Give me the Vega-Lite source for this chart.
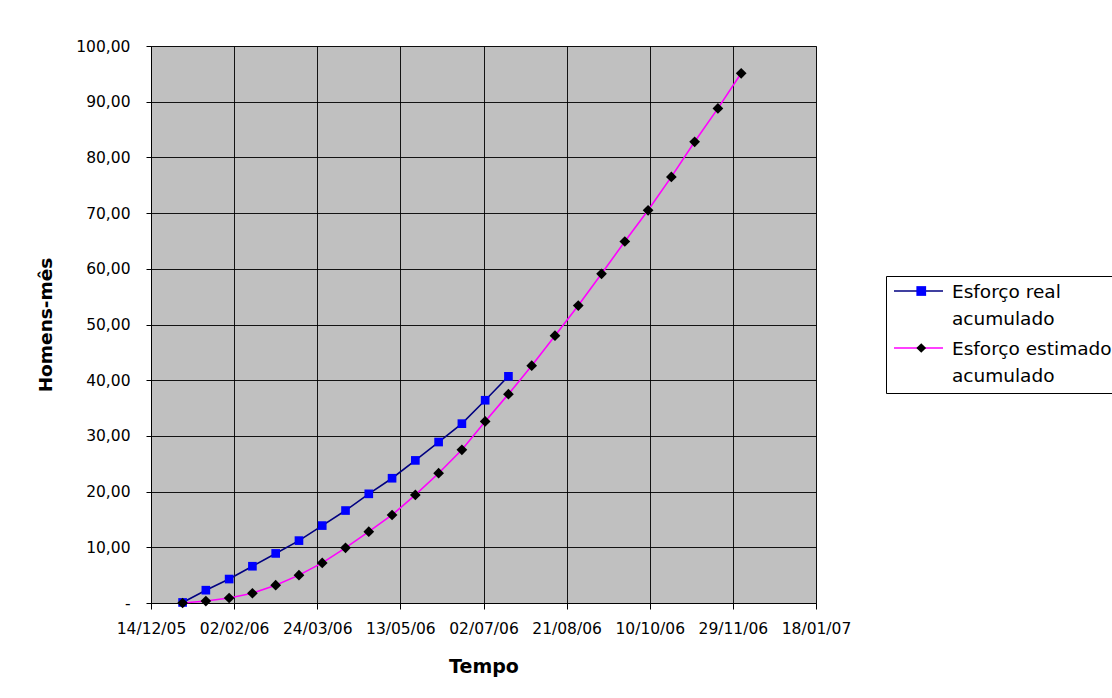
{
  "$schema": "https://vega.github.io/schema/vega-lite/v6.json",
  "width": 665,
  "height": 557,
  "autosize": {"type": "none"},
  "padding": {"left": 151, "top": 46, "right": 296, "bottom": 95},
  "background": "#FFFFFF",
  "config": {
    "font": "DejaVu Sans",
    "view": {"fill": "#C0C0C0", "stroke": "#808080", "strokeWidth": 1},
    "axis": {
      "labelFont": "DejaVu Sans",
      "labelFontSize": 15.5,
      "labelColor": "#000000",
      "titleFont": "DejaVu Sans",
      "titleFontWeight": "bold",
      "titleColor": "#000000",
      "domainColor": "#000000",
      "tickColor": "#000000",
      "gridColor": "#000000",
      "gridOpacity": 0.9,
      "gridWidth": 1,
      "labelFlush": false,
      "labelOverlap": false
    }
  },
  "data": {
    "values": [
      {"date": "2006-01-02", "serie": "Esforço real acumulado", "valor": 0.1},
      {"date": "2006-01-16", "serie": "Esforço real acumulado", "valor": 2.3},
      {"date": "2006-01-30", "serie": "Esforço real acumulado", "valor": 4.3},
      {"date": "2006-02-13", "serie": "Esforço real acumulado", "valor": 6.6},
      {"date": "2006-02-27", "serie": "Esforço real acumulado", "valor": 8.9},
      {"date": "2006-03-13", "serie": "Esforço real acumulado", "valor": 11.2},
      {"date": "2006-03-27", "serie": "Esforço real acumulado", "valor": 13.9},
      {"date": "2006-04-10", "serie": "Esforço real acumulado", "valor": 16.6},
      {"date": "2006-04-24", "serie": "Esforço real acumulado", "valor": 19.6},
      {"date": "2006-05-08", "serie": "Esforço real acumulado", "valor": 22.4},
      {"date": "2006-05-22", "serie": "Esforço real acumulado", "valor": 25.6},
      {"date": "2006-06-05", "serie": "Esforço real acumulado", "valor": 28.9},
      {"date": "2006-06-19", "serie": "Esforço real acumulado", "valor": 32.2},
      {"date": "2006-07-03", "serie": "Esforço real acumulado", "valor": 36.4},
      {"date": "2006-07-17", "serie": "Esforço real acumulado", "valor": 40.7},
      {"date": "2006-01-02", "serie": "Esforço estimado acumulado", "valor": 0.0},
      {"date": "2006-01-16", "serie": "Esforço estimado acumulado", "valor": 0.35},
      {"date": "2006-01-30", "serie": "Esforço estimado acumulado", "valor": 0.9},
      {"date": "2006-02-13", "serie": "Esforço estimado acumulado", "valor": 1.75},
      {"date": "2006-02-27", "serie": "Esforço estimado acumulado", "valor": 3.2},
      {"date": "2006-03-13", "serie": "Esforço estimado acumulado", "valor": 5.0},
      {"date": "2006-03-27", "serie": "Esforço estimado acumulado", "valor": 7.2},
      {"date": "2006-04-10", "serie": "Esforço estimado acumulado", "valor": 9.9},
      {"date": "2006-04-24", "serie": "Esforço estimado acumulado", "valor": 12.8},
      {"date": "2006-05-08", "serie": "Esforço estimado acumulado", "valor": 15.8},
      {"date": "2006-05-22", "serie": "Esforço estimado acumulado", "valor": 19.4},
      {"date": "2006-06-05", "serie": "Esforço estimado acumulado", "valor": 23.3},
      {"date": "2006-06-19", "serie": "Esforço estimado acumulado", "valor": 27.5},
      {"date": "2006-07-03", "serie": "Esforço estimado acumulado", "valor": 32.6},
      {"date": "2006-07-17", "serie": "Esforço estimado acumulado", "valor": 37.5},
      {"date": "2006-07-31", "serie": "Esforço estimado acumulado", "valor": 42.6},
      {"date": "2006-08-14", "serie": "Esforço estimado acumulado", "valor": 48.0},
      {"date": "2006-08-28", "serie": "Esforço estimado acumulado", "valor": 53.4},
      {"date": "2006-09-11", "serie": "Esforço estimado acumulado", "valor": 59.1},
      {"date": "2006-09-25", "serie": "Esforço estimado acumulado", "valor": 64.9},
      {"date": "2006-10-09", "serie": "Esforço estimado acumulado", "valor": 70.5},
      {"date": "2006-10-23", "serie": "Esforço estimado acumulado", "valor": 76.5},
      {"date": "2006-11-06", "serie": "Esforço estimado acumulado", "valor": 82.8},
      {"date": "2006-11-20", "serie": "Esforço estimado acumulado", "valor": 88.8},
      {"date": "2006-12-04", "serie": "Esforço estimado acumulado", "valor": 95.1}
    ]
  },
  "layer": [
    {
      "mark": {"type": "line", "strokeWidth": 1.6},
      "encoding": {
        "x": {
          "field": "date",
          "type": "temporal",
          "scale": {
            "type": "utc",
            "domain": [
              {"year": 2005, "month": 12, "date": 14, "utc": true},
              {"year": 2007, "month": 1, "date": 18, "utc": true}
            ]
          },
          "axis": {
            "values": [
              {"year": 2005, "month": 12, "date": 14, "utc": true},
              {"year": 2006, "month": 2, "date": 2, "utc": true},
              {"year": 2006, "month": 3, "date": 24, "utc": true},
              {"year": 2006, "month": 5, "date": 13, "utc": true},
              {"year": 2006, "month": 7, "date": 2, "utc": true},
              {"year": 2006, "month": 8, "date": 21, "utc": true},
              {"year": 2006, "month": 10, "date": 10, "utc": true},
              {"year": 2006, "month": 11, "date": 29, "utc": true},
              {"year": 2007, "month": 1, "date": 18, "utc": true}
            ],
            "labelExpr": "utcFormat(datum.value, '%d/%m/%y')",
            "tickSize": 6,
            "labelPadding": 12,
            "grid": true,
            "title": "Tempo",
            "titleFontSize": 19,
            "titleX": 332.5,
            "titleY": 63,
            "titleAlign": "center",
            "titleBaseline": "middle"
          }
        },
        "y": {
          "field": "valor",
          "type": "quantitative",
          "scale": {"domain": [0, 100], "nice": false, "zero": true},
          "axis": {
            "values": [0, 10, 20, 30, 40, 50, 60, 70, 80, 90, 100],
            "labelExpr": "datum.value == 0 ? '-' : replace(format(datum.value, '.2f'), '.', ',')",
            "tickSize": 5,
            "labelPadding": 16,
            "grid": true,
            "title": "Homens-mês",
            "titleFontSize": 18.5,
            "titleX": -106,
            "titleY": 278.5,
            "titleAngle": 270,
            "titleAlign": "center",
            "titleBaseline": "middle"
          }
        },
        "color": {
          "field": "serie",
          "type": "nominal",
          "scale": {"domain": ["Esforço real acumulado", "Esforço estimado acumulado"], "range": ["#000080", "#FF00FF"]},
          "legend": {
            "orient": "none",
            "legendX": 735,
            "legendY": 230,
            "title": null,
            "symbolType": "stroke",
            "symbolSize": 2401,
            "symbolStrokeWidth": 1.6,
            "padding": 7,
            "strokeColor": "#000000",
            "labelFont": "DejaVu Sans",
            "labelFontSize": 18.5,
            "labelColor": "#000000",
            "labelOffset": 8,
            "labelLimit": 1000,
            "rowPadding": 11,
            "labelExpr": "datum.label == 'Esforço real acumulado' ? ['Esforço real', 'acumulado'] : ['Esforço estimado', 'acumulado']",
            "encode": {
              "labels": {"update": {"lineHeight": {"value": 27}, "baseline": {"value": "top"}, "y": {"value": 0}}},
              "symbols": {"update": {"y": {"value": 8}}}
            }
          }
        }
      }
    },
    {
      "mark": {"type": "point", "filled": true, "opacity": 1, "strokeWidth": 0},
      "encoding": {
        "x": {"field": "date", "type": "temporal"},
        "y": {"field": "valor", "type": "quantitative"},
        "fill": {
          "field": "serie",
          "type": "nominal",
          "sort": "descending",
          "scale": {"range": ["#0000FF", "#000000"]},
          "legend": {
            "orient": "none",
            "legendX": 754,
            "legendY": 230,
            "title": null,
            "symbolSize": 95,
            "symbolStrokeWidth": 0,
            "symbolOpacity": 1,
            "padding": 7,
            "labelFont": "DejaVu Sans",
            "labelFontSize": 18.5,
            "labelOpacity": 0,
            "labelOffset": 8,
            "labelLimit": 1000,
            "rowPadding": 11,
            "labelExpr": "datum.label == 'Esforço real acumulado' ? ['Esforço real', 'acumulado'] : ['Esforço estimado', 'acumulado']",
            "encode": {
              "labels": {"update": {"lineHeight": {"value": 27}, "baseline": {"value": "top"}, "y": {"value": 0}}},
              "symbols": {"update": {"y": {"value": 8}}}
            }
          }
        },
        "shape": {
          "field": "serie",
          "type": "nominal",
          "sort": "descending",
          "scale": {"range": ["square", "diamond"]},
          "legend": {
            "orient": "none",
            "legendX": 754,
            "legendY": 230,
            "title": null,
            "symbolSize": 95,
            "symbolStrokeWidth": 0,
            "symbolOpacity": 1,
            "padding": 7,
            "labelFont": "DejaVu Sans",
            "labelFontSize": 18.5,
            "labelOpacity": 0,
            "labelOffset": 8,
            "labelLimit": 1000,
            "rowPadding": 11,
            "labelExpr": "datum.label == 'Esforço real acumulado' ? ['Esforço real', 'acumulado'] : ['Esforço estimado', 'acumulado']",
            "encode": {
              "labels": {"update": {"lineHeight": {"value": 27}, "baseline": {"value": "top"}, "y": {"value": 0}}},
              "symbols": {"update": {"y": {"value": 8}}}
            }
          }
        },
        "size": {
          "field": "serie",
          "type": "nominal",
          "sort": "ascending",
          "scale": {"range": [115, 75]},
          "legend": null
        }
      }
    }
  ]
}
